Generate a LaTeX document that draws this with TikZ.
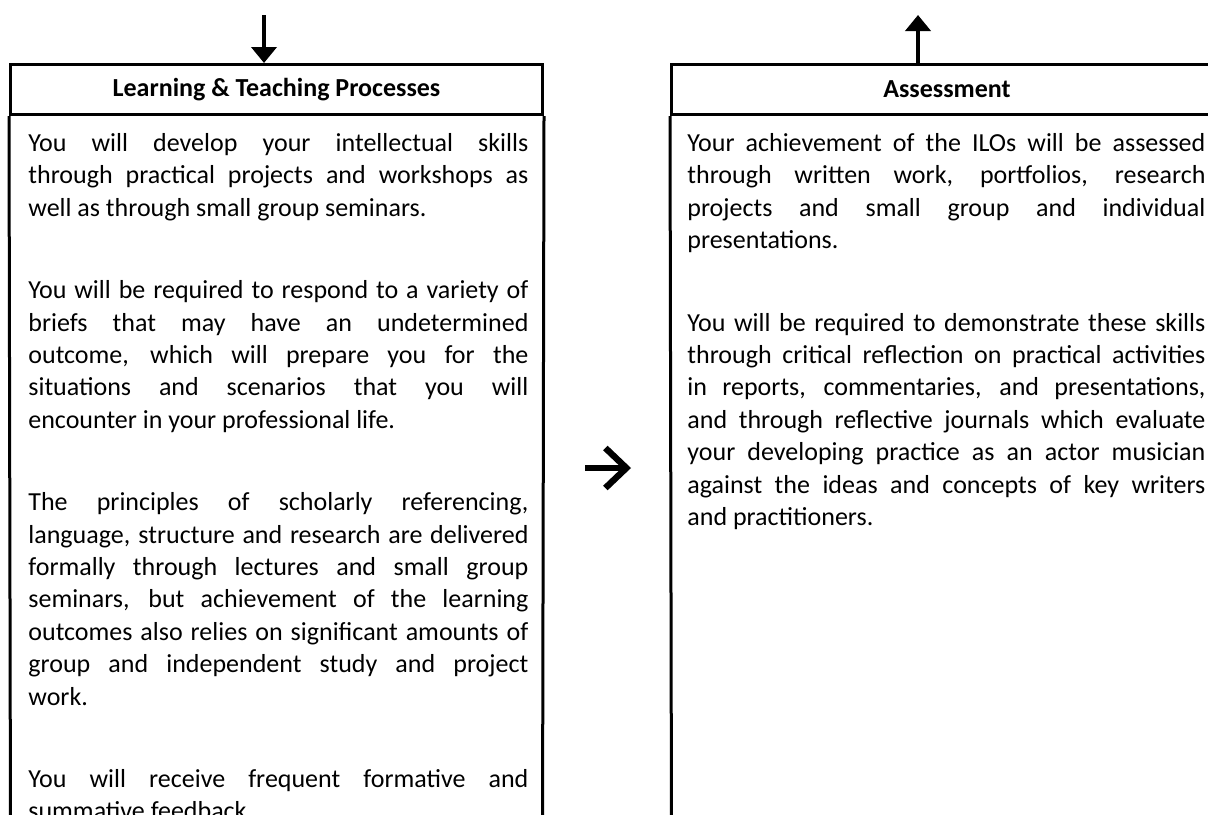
\documentclass[tikz,border=0pt]{standalone}
\usepackage{fontspec}
\setmainfont{Carlito}
\usetikzlibrary{arrows.meta}
\setlength{\parindent}{0pt}

\tikzset{
  cellhead/.style={draw, line width=1.5pt, minimum height=25pt, inner sep=0pt,
    font=\bfseries\fontsize{13}{16.2}\selectfont},
  cellline/.style={line width=1.5pt},
  cellbody/.style={anchor=north west, inner sep=0pt, align=justify,
    font=\fontsize{13}{16.2}\selectfont},
  flowarrow/.style={line width=2.2pt, -{Triangle[width=12.5pt,length=8pt]}},
}

\begin{document}
\begin{tikzpicture}[x=0.5pt, y=-0.5pt]
  \useasboundingbox (0,0) rectangle (1208,814);
  \tolerance=10000 \hbadness=10000 \hyphenpenalty=10000

  % Draw the two table cells
  \node[cellhead, minimum width=266pt] (lhead) at (276.5,89.5) {Learning \& Teaching Processes};
  \draw[cellline] (lhead.south west) -- (10.5,840) (lhead.south east) -- (542.5,840);

  \node[cellhead, minimum width=275.5pt] (rhead) at (947,89.5) {Assessment};
  \draw[cellline] (rhead.south west) -- (671.5,840) (rhead.south east) -- (1222.5,840);

  % Draw the arrows in and out
  \coordinate (lin) at (264,15);
  \draw[flowarrow] (lin) -- (lin |- lhead.north);
  \coordinate (rout) at (918,15);
  \draw[flowarrow] (rout |- rhead.north) -- (rout);

  % the arrow between the cells
  \coordinate (mtail) at (585,468);
  \coordinate (mtip) at (631,468);
  \draw[line width=3.2pt, -{Straight Barb[length=10.5pt,width=20pt]}] (mtail) -- (mtip);

  % Text of the left cell
  \node[cellbody, text width=250pt] (lbody) at (28,133) {%
    You will develop your intellectual skills\linebreak
    through practical projects and workshops as\linebreak
    well as through small group seminars.\par\vspace{25pt}
    You will be required to respond to a variety of\linebreak
    briefs that may have an undetermined\linebreak
    outcome, which will prepare you for the\linebreak
    situations and scenarios that you will\linebreak
    encounter in your professional life.\par\vspace{25pt}
    The principles of scholarly referencing,\linebreak
    language, structure and research are delivered\linebreak
    formally through lectures and small group\linebreak
    seminars, but achievement of the learning\linebreak
    outcomes also relies on significant amounts of\linebreak
    group and independent study and project\linebreak
    work.\par\vspace{25pt}
    You will receive frequent formative and\linebreak
    summative feedback.};

  % Text of the right cell
  \node[cellbody, text width=259pt] (rbody) at (687,133) {%
    Your achievement of the ILOs will be assessed\linebreak
    through written work, portfolios, research\linebreak
    projects and small group and individual\linebreak
    presentations.\par\vspace{25pt}
    You will be required to demonstrate these skills\linebreak
    through critical reflection on practical activities\linebreak
    in reports, commentaries, and presentations,\linebreak
    and through reflective journals which evaluate\linebreak
    your developing practice as an actor musician\linebreak
    against the ideas and concepts of key writers\linebreak
    and practitioners.};
\end{tikzpicture}
\end{document}
